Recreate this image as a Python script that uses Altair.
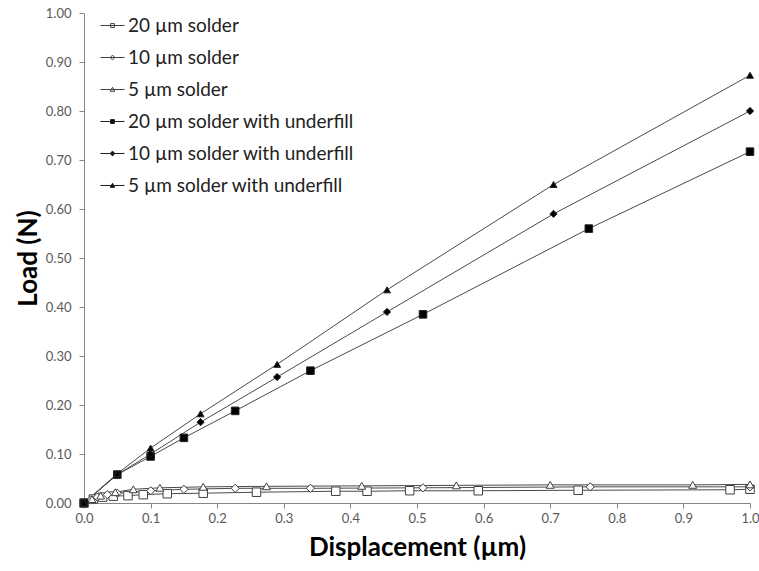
import altair as alt
import pandas as pd

series_names = [
    "20 µm solder",
    "10 µm solder",
    "5 µm solder",
    "20 µm solder with underfill",
    "10 µm solder with underfill",
    "5 µm solder with underfill",
]

# 20 µm solder (open squares)
s20_x = [0, 0.014, 0.028, 0.044, 0.066, 0.089, 0.125, 0.179, 0.259, 0.378, 0.425, 0.489, 0.592, 0.742, 0.970, 1.0]
s20_y = [0, 0.008, 0.012, 0.014, 0.015, 0.017, 0.019, 0.020, 0.022, 0.024, 0.024, 0.025, 0.025, 0.026, 0.027, 0.028]
# 10 µm solder (open diamonds)
s10_x = [0, 0.010, 0.020, 0.035, 0.050, 0.100, 0.150, 0.227, 0.340, 0.509, 0.760, 1.0]
s10_y = [0, 0.006, 0.012, 0.017, 0.020, 0.025, 0.028, 0.030, 0.030, 0.031, 0.033, 0.033]
# 5 µm solder (open triangles)
s5_x = [0, 0.012, 0.025, 0.047, 0.074, 0.114, 0.179, 0.274, 0.417, 0.559, 0.700, 0.914, 1.0]
s5_y = [0, 0.008, 0.015, 0.022, 0.028, 0.031, 0.033, 0.034, 0.035, 0.036, 0.037, 0.037, 0.038]
# 20 µm solder with underfill (filled squares)
u20_x = [0, 0.050, 0.100, 0.150, 0.227, 0.340, 0.509, 0.758, 1.0]
u20_y = [0, 0.058, 0.095, 0.133, 0.188, 0.270, 0.385, 0.560, 0.717]
# 10 µm solder with underfill (filled diamonds)
u10_x = [0, 0.050, 0.100, 0.175, 0.290, 0.455, 0.705, 1.0]
u10_y = [0, 0.058, 0.100, 0.165, 0.257, 0.390, 0.590, 0.800]
# 5 µm solder with underfill (filled triangles)
u5_x = [0, 0.050, 0.100, 0.175, 0.290, 0.455, 0.705, 1.0]
u5_y = [0, 0.060, 0.112, 0.182, 0.283, 0.435, 0.650, 0.873]

x_ticks = [0.0, 0.1, 0.2, 0.3, 0.4, 0.5, 0.6, 0.7, 0.8, 0.9, 1.0]
y_ticks = [0.0, 0.1, 0.2, 0.3, 0.4, 0.5, 0.6, 0.7, 0.8, 0.9, 1.0]

rows = []
for name, xs, ys in zip(series_names,
                        [s20_x, s10_x, s5_x, u20_x, u10_x, u5_x],
                        [s20_y, s10_y, s5_y, u20_y, u10_y, u5_y]):
    for xv, yv in zip(xs, ys):
        rows.append({"series": name, "disp": xv, "load": yv})
df = pd.DataFrame(rows)

fills = ["white", "white", "white", "black", "black", "black"]
strokes = ["#404040", "#404040", "#404040", "#222222", "#222222", "#222222"]
point_shapes = ["square", "diamond", "triangle-up", "square", "diamond", "triangle-up"]
point_sizes = [72, 48, 66, 82, 52, 72]

sq = "M-2,0H2M-0.32,-0.32H0.32V0.32H-0.32Z"
di = "M-2,0H2M0,-0.4L0.4,0L0,0.4L-0.4,0Z"
tr = "M-2,0H2M0,-0.38L0.38,0.3H-0.38Z"
legend_shapes = [sq, di, tr, sq, di, tr]

x_enc = alt.X("disp:Q",
              scale=alt.Scale(domain=[0, 1], nice=False, zero=False),
              axis=alt.Axis(values=x_ticks, format=".1f", title="Displacement (µm)",
                            tickSize=5, labelPadding=4, titlePadding=9, labelFlush=False))
y_enc = alt.Y("load:Q",
              scale=alt.Scale(domain=[0, 1], nice=False),
              axis=alt.Axis(values=y_ticks, format=".2f", title="Load (N)",
                            tickSize=5, labelPadding=8, titlePadding=4, labelFlush=False))

lines = alt.Chart(df).mark_line(color="#4a4a4a", strokeWidth=1).encode(
    x=x_enc, y=y_enc, detail="series:N", order="disp:Q"
)

points = alt.Chart(df).mark_point(filled=True, opacity=1, strokeWidth=1).encode(
    x=x_enc, y=y_enc,
    shape=alt.Shape("series:N", scale=alt.Scale(domain=series_names, range=point_shapes), legend=None),
    fill=alt.Fill("series:N", scale=alt.Scale(domain=series_names, range=fills), legend=None),
    stroke=alt.Stroke("series:N", scale=alt.Scale(domain=series_names, range=strokes), legend=None),
    size=alt.Size("series:N", scale=alt.Scale(domain=series_names, range=point_sizes), legend=None),
)

leg = alt.Legend(
    title=None, orient="none", legendX=19, legendY=3,
    symbolSize=144, symbolOpacity=1, symbolStrokeWidth=1,
    labelFont="Lato", labelFontSize=19, labelColor="#222222", labelOffset=6,
    rowPadding=12, padding=0, labelLimit=400,
)

legend_layer = alt.Chart(df).mark_point(filled=True, opacity=0, strokeWidth=1).encode(
    x=x_enc, y=y_enc,
    shape=alt.Shape("series:N", scale=alt.Scale(domain=series_names, range=legend_shapes), legend=leg),
    fill=alt.Fill("series:N", scale=alt.Scale(domain=series_names, range=fills), legend=leg),
    stroke=alt.Stroke("series:N", scale=alt.Scale(domain=series_names, range=strokes), legend=leg),
)

chart = alt.layer(lines, points, legend_layer).resolve_scale(
    shape="independent", fill="independent", size="independent", stroke="independent"
).properties(
    width=666, height=490,
    autosize=alt.AutoSizeParams(type="none"),
    padding={"left": 84, "top": 13, "right": 9, "bottom": 68},
).configure_view(stroke=None).configure_axis(
    grid=False,
    domainColor="#868686", tickColor="#868686",
    labelColor="#595959", labelFont="Lato", labelFontSize=13,
    titleFont="Lato", titleFontSize=26, titleFontWeight="bold", titleColor="black",
)

chart.save("out.html", embed_options={"renderer": "svg", "actions": False})
